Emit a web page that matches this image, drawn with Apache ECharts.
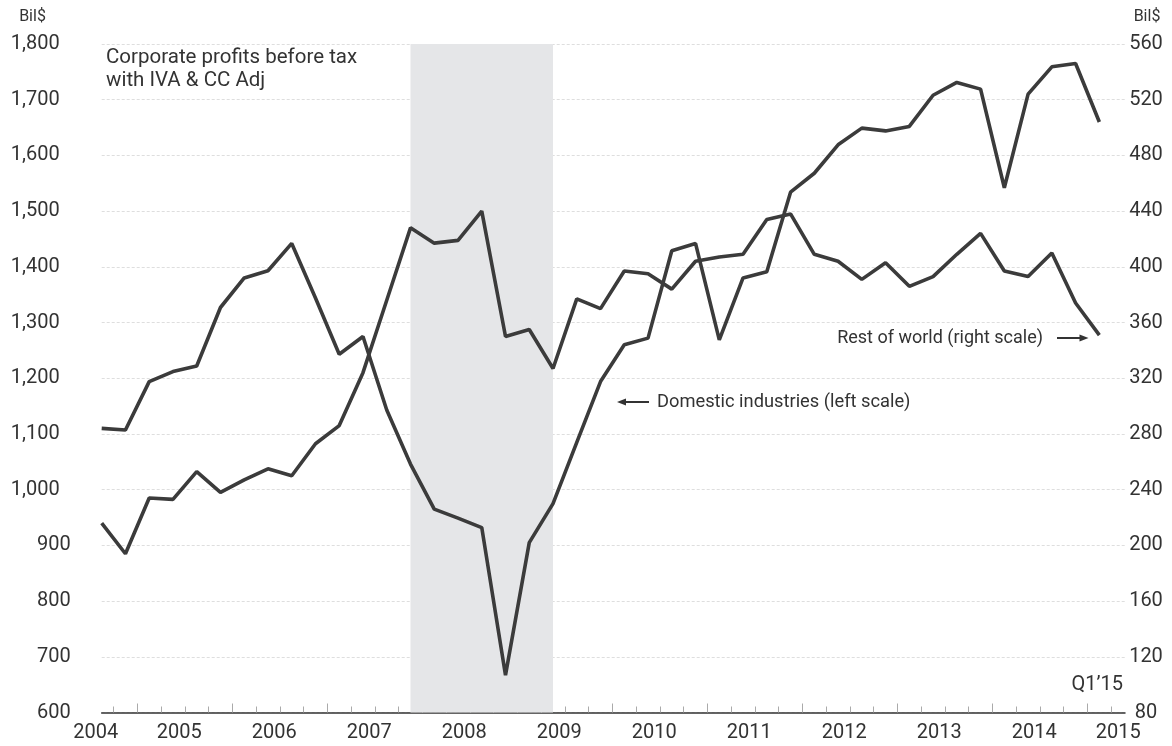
<!DOCTYPE html>
<html><head><meta charset="utf-8">
<script src="https://cdn.jsdelivr.net/npm/echarts@6/dist/echarts.min.js"></script>
<style>html,body{margin:0;padding:0;background:#fff}#c{width:1172px;height:746px}</style>
</head><body><div id="c"></div>
<script>
// Quarterly observations, 2004Q3 .. 2015Q1
const quarters = [
 '2004Q3','2004Q4',
 '2005Q1','2005Q2','2005Q3','2005Q4',
 '2006Q1','2006Q2','2006Q3','2006Q4',
 '2007Q1','2007Q2','2007Q3','2007Q4',
 '2008Q1','2008Q2','2008Q3','2008Q4',
 '2009Q1','2009Q2','2009Q3','2009Q4',
 '2010Q1','2010Q2','2010Q3','2010Q4',
 '2011Q1','2011Q2','2011Q3','2011Q4',
 '2012Q1','2012Q2','2012Q3','2012Q4',
 '2013Q1','2013Q2','2013Q3','2013Q4',
 '2014Q1','2014Q2','2014Q3','2014Q4',
 '2015Q1'];
// Domestic industries, bil$ (left scale)
const domestic = [
 1110,1107,
 1194,1212,1222,1327,
 1380,1393,1442,1344,
 1243,1275,1143,1046,
 965,949,932,667,
 905,975,1085,1194,
 1260,1272,1429,1442,
 1269,1380,1391,1534,
 1568,1619,1649,1644,
 1652,1708,1731,1719,
 1542,1710,1759,1765,
 1660];
// Rest of world, bil$ (right scale)
const restOfWorld = [
 216,194,
 234,233,253,238,
 247,255,250,273,
 286,324,376,428,
 417,419,440,350,
 355,327,377,370,
 397,395,384,404,
 407,409,434,438,
 409,404,391,403,
 386,393,409,424,
 397,393,410,374,
 351];
const yearLabels = ['2004','2005','2006','2007','2008','2009','2010','2011','2012','2013','2014','2015'];
const recession = ['2007Q4','2009Q2'];

function qx(q){ const y=+q.slice(0,4), n=+q.slice(5); return y + (n-1)/4 + 0.125; }
const xMin = qx(quarters[0]);
const xMax = qx(quarters[quarters.length-1]) + 0.27;

const majorTicks = [], minorTicks = [];
for (let y = 2005; y <= 2015; y++) {
  majorTicks.push(y);
}
for (let v = 2004.75; v < xMax; v += 0.25) {
  if (Math.abs(v - Math.round(v)) > 1e-6) minorTicks.push(v);
}
const labelPos = yearLabels.map((s, i) => {
  if (i === 0) return xMin;
  if (i === yearLabels.length - 1) return xMax - 0.07;
  return +s + 0.44;
});
function yearFmt(v){
  let best = 0, d = 1e9;
  labelPos.forEach((p,i)=>{ if (Math.abs(p-v) < d){ d = Math.abs(p-v); best = i; } });
  return best === 0 ? '{s|' + yearLabels[0] + '}' : yearLabels[best];
}

const FONT = 'Roboto';
const TXT = '#333';
const LINE = '#3b3b3b';

const chart = echarts.init(document.getElementById('c'));
chart.setOption({
  animation: false,
  backgroundColor: '#fff',
  grid: { left: 101.7, right: 47, top: 44, bottom: 33.5, containLabel: false },
  xAxis: [
    { type: 'value', min: xMin, max: xMax, gridIndex: 0,
      axisLine: { show: true, onZero: false, lineStyle: { color: '#333', width: 1.5 } },
      splitLine: { show: false },
      axisTick: { show: true, inside: true, length: 9, lineStyle: { color: '#aaa', width: 1 }, customValues: majorTicks },
      axisLabel: { customValues: labelPos, formatter: yearFmt, margin: 10, fontSize: 20, color: TXT, fontFamily: FONT,
        rich: { s: { fontSize: 20, color: TXT, fontFamily: FONT, padding: [0, 12, 0, 0] } } } },
    { type: 'value', min: xMin, max: xMax, gridIndex: 0, position: 'bottom',
      axisLine: { show: false }, splitLine: { show: false },
      axisTick: { show: true, inside: true, length: 6, lineStyle: { color: '#aaa', width: 1 }, customValues: minorTicks },
      axisLabel: { show: false } }
  ],
  yAxis: [
    { type: 'value', min: 600, max: 1800, interval: 100, position: 'left',
      axisLine: { show: false }, axisTick: { show: false },
      splitLine: { show: true, lineStyle: { color: '#dedede', width: 1, type: [3, 2] } },
      axisLabel: { margin: 31, fontSize: 20, color: TXT, fontFamily: FONT,
        formatter: v => v >= 1000 ? '{w|' + v.toLocaleString('en-US') + '}' : String(v),
        rich: { w: { fontSize: 20, color: TXT, fontFamily: FONT, padding: [0, 11, 0, 0] } } } },
    { type: 'value', min: 80, max: 560, interval: 40, position: 'right',
      axisLine: { show: false }, axisTick: { show: false }, splitLine: { show: false },
      axisLabel: { margin: 21, align: 'center', fontSize: 20, color: TXT, fontFamily: FONT } }
  ],
  series: [
    { name: 'Domestic industries', type: 'line', xAxisIndex: 0, yAxisIndex: 0,
      data: quarters.map((q, i) => [qx(q), domestic[i]]),
      symbol: 'none', lineStyle: { color: LINE, width: 3.6 }, z: 3,
      markArea: { silent: true, itemStyle: { color: '#e5e6e8' },
        data: [[{ xAxis: qx(recession[0]) }, { xAxis: qx(recession[1]) }]] } },
    { name: 'Rest of world', type: 'line', xAxisIndex: 0, yAxisIndex: 1,
      data: quarters.map((q, i) => [qx(q), restOfWorld[i]]),
      symbol: 'none', lineStyle: { color: LINE, width: 3.6 }, z: 3 }
  ],
  graphic: [
    { type: 'text', x: 32.5, y: 16.5, style: { text: 'Bil$', fontSize: 16, fill: TXT, fontFamily: FONT, align: 'center', verticalAlign: 'middle' } },
    { type: 'text', x: 1147, y: 16.5, style: { text: 'Bil$', fontSize: 16, fill: TXT, fontFamily: FONT, align: 'center', verticalAlign: 'middle' } },
    { type: 'text', x: 106, y: 46, style: { text: 'Corporate profits before tax\nwith IVA & CC Adj', fontSize: 20.5, lineHeight: 23, fill: TXT, fontFamily: FONT } },
    { type: 'text', x: 657, y: 402, style: { text: 'Domestic industries (left scale)', fontSize: 18.3, fill: TXT, fontFamily: FONT, verticalAlign: 'middle' } },
    { type: 'line', shape: { x1: 624, y1: 402, x2: 649, y2: 402 }, style: { stroke: TXT, lineWidth: 2 } },
    { type: 'polygon', shape: { points: [[617, 402], [626, 398.5], [626, 405.5]] }, style: { fill: TXT } },
    { type: 'text', x: 1043, y: 338, style: { text: 'Rest of world (right scale)', fontSize: 18, fill: TXT, fontFamily: FONT, align: 'right', verticalAlign: 'middle' } },
    { type: 'line', shape: { x1: 1057, y1: 338, x2: 1081, y2: 338 }, style: { stroke: TXT, lineWidth: 2 } },
    { type: 'polygon', shape: { points: [[1088.5, 338], [1079.5, 334.5], [1079.5, 341.5]] }, style: { fill: TXT } },
    { type: 'text', x: 1123, y: 685, style: { text: 'Q1\u201915', fontSize: 20, fill: TXT, fontFamily: FONT, align: 'right', verticalAlign: 'middle' } }
  ]
});
</script></body></html>
